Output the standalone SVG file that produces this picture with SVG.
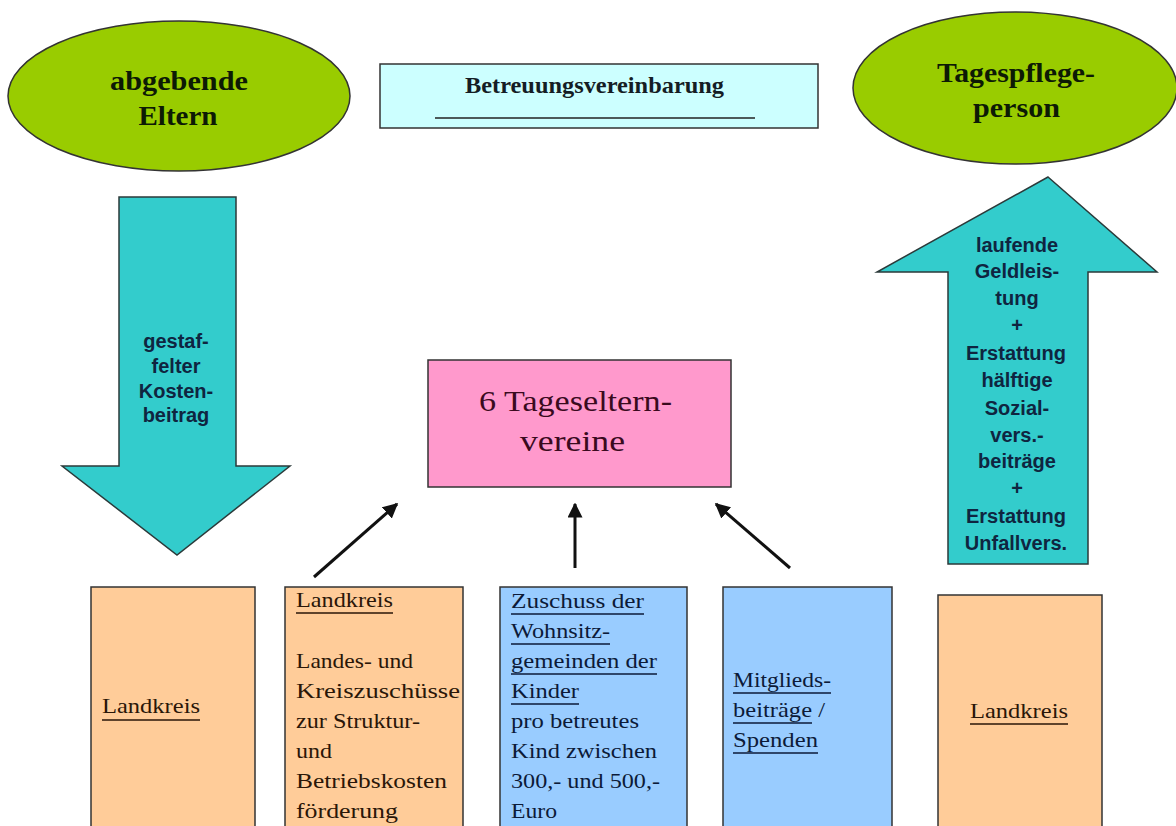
<svg xmlns="http://www.w3.org/2000/svg" width="1176" height="826" viewBox="0 0 1176 826">
  <defs>
    <marker id="ah" viewBox="0 0 10 10" refX="9" refY="5" markerWidth="5" markerHeight="5" orient="auto" markerUnits="strokeWidth">
      <path d="M0,0 L10,5 L0,10 z" fill="#111"/>
    </marker>
    <style>
      .ell { fill: #99CC00; stroke: #333; stroke-width: 1.5; }
      .ellt { font-family: "Liberation Serif", "Times New Roman", serif; font-weight: bold; font-size: 27px; fill: #0d1a05; text-anchor: middle; }
      .big { fill: #33CCCC; stroke: #2b3a3a; stroke-width: 1.5; }
      .bigt { font-family: "Liberation Sans", Arial, sans-serif; font-weight: bold; font-size: 20px; fill: #0f2540; text-anchor: middle; }
      .orange { fill: #FFCC99; stroke: #333; stroke-width: 1.5; }
      .blue { fill: #99CCFF; stroke: #333; stroke-width: 1.5; }
      .bt { font-family: "Liberation Serif", "Times New Roman", serif; font-size: 22px; }
      .ot { fill: #2a1608; }
      .blt { fill: #0c1a38; }
      .ul { stroke-width: 1.4; }
      .ulo { stroke: #2a1608; }
      .ulb { stroke: #0c1a38; }
      .conn { stroke: #111; stroke-width: 3; fill: none; marker-end: url(#ah); }
    </style>
  </defs>
  <rect width="1176" height="826" fill="#ffffff"/>

  <g id="abgebende-eltern">
    <ellipse class="ell" cx="179" cy="96" rx="171" ry="75"/>
    <text class="ellt" x="179" y="90" textLength="138" lengthAdjust="spacingAndGlyphs">abgebende</text>
    <text class="ellt" x="178" y="125" textLength="79" lengthAdjust="spacingAndGlyphs">Eltern</text>
  </g>

  <g id="betreuungsvereinbarung">
    <rect x="380" y="64" width="438" height="64" fill="#CCFFFF" stroke="#333" stroke-width="1.5"/>
    <text x="594.5" y="93" font-family="Liberation Serif, Times New Roman, serif" font-weight="bold" font-size="23" fill="#151d25" text-anchor="middle" textLength="259" lengthAdjust="spacingAndGlyphs">Betreuungsvereinbarung</text>
    <line x1="435" y1="118" x2="755" y2="118" stroke="#222" stroke-width="1.5"/>
  </g>

  <g id="tagespflegeperson">
    <ellipse class="ell" cx="1015" cy="88" rx="162" ry="76"/>
    <text class="ellt" x="1016" y="82" textLength="158" lengthAdjust="spacingAndGlyphs">Tagespflege-</text>
    <text class="ellt" x="1016.5" y="117" textLength="87" lengthAdjust="spacingAndGlyphs">person</text>
  </g>

  <g id="kostenbeitrag-arrow">
    <polygon class="big" points="119,197 236,197 236,466 290,466 177,555 62,466 119,466"/>
    <text class="bigt" font-size="20.5" x="176" y="348">gestaf-</text>
    <text class="bigt" font-size="20.5" x="176" y="373">felter</text>
    <text class="bigt" font-size="20.5" x="176" y="398">Kosten-</text>
    <text class="bigt" font-size="20.5" x="176" y="422">beitrag</text>
  </g>

  <g id="geldleistung-arrow">
    <polygon class="big" points="1048,177 1157,272 1088,272 1088,564 948,564 948,272 877,272"/>
    <text class="bigt" x="1017" y="252">laufende</text>
    <text class="bigt" x="1017" y="278">Geldleis-</text>
    <text class="bigt" x="1017" y="305">tung</text>
    <text class="bigt" x="1017" y="332">+</text>
    <text class="bigt" x="1016" y="360">Erstattung</text>
    <text class="bigt" x="1017" y="387">hälftige</text>
    <text class="bigt" x="1017" y="415">Sozial-</text>
    <text class="bigt" x="1017" y="442">vers.-</text>
    <text class="bigt" x="1017" y="468">beiträge</text>
    <text class="bigt" x="1017" y="495">+</text>
    <text class="bigt" x="1016" y="523">Erstattung</text>
    <text class="bigt" x="1016" y="550">Unfallvers.</text>
  </g>

  <g id="tageselternvereine">
    <rect x="428" y="360" width="303" height="127" fill="#FF99CC" stroke="#333" stroke-width="1.5"/>
    <text x="575.5" y="411" font-family="Liberation Serif, Times New Roman, serif" font-size="29" fill="#3a0a1e" text-anchor="middle" textLength="193" lengthAdjust="spacingAndGlyphs">6 Tageseltern-</text>
    <text x="572.5" y="451" font-family="Liberation Serif, Times New Roman, serif" font-size="29" fill="#3a0a1e" text-anchor="middle" textLength="105" lengthAdjust="spacingAndGlyphs">vereine</text>
  </g>

  <g id="connectors">
    <line class="conn" x1="314" y1="577" x2="397" y2="504"/>
    <line class="conn" x1="575" y1="568" x2="575" y2="504"/>
    <line class="conn" x1="790" y1="568" x2="716" y2="504"/>
  </g>

  <g id="landkreis-links">
    <rect class="orange" x="91" y="587" width="164" height="245"/>
    <text class="bt ot" x="102" y="713" textLength="98" lengthAdjust="spacingAndGlyphs">Landkreis</text>
    <line class="ul ulo" x1="102" y1="720" x2="200" y2="720"/>
  </g>

  <g id="landkreis-zuschuesse">
    <rect class="orange" x="285" y="587" width="178" height="245"/>
    <text class="bt ot" x="296" y="607" textLength="97" lengthAdjust="spacingAndGlyphs">Landkreis</text>
    <line class="ul ulo" x1="296" y1="613" x2="393" y2="613"/>
    <text class="bt ot" x="296" y="668" textLength="117" lengthAdjust="spacingAndGlyphs">Landes- und</text>
    <text class="bt ot" x="296" y="698" textLength="164" lengthAdjust="spacingAndGlyphs">Kreiszuschüsse</text>
    <text class="bt ot" x="296" y="728" textLength="124" lengthAdjust="spacingAndGlyphs">zur Struktur-</text>
    <text class="bt ot" x="296" y="758" textLength="36" lengthAdjust="spacingAndGlyphs">und</text>
    <text class="bt ot" x="296" y="788" textLength="151" lengthAdjust="spacingAndGlyphs">Betriebskosten</text>
    <text class="bt ot" x="296" y="818" textLength="102" lengthAdjust="spacingAndGlyphs">förderung</text>
  </g>

  <g id="wohnsitzgemeinden">
    <rect class="blue" x="500" y="587" width="187" height="245"/>
    <text class="bt blt" x="511" y="608" textLength="133" lengthAdjust="spacingAndGlyphs">Zuschuss der</text>
    <line class="ul ulb" x1="511" y1="614" x2="644" y2="614"/>
    <text class="bt blt" x="511" y="638" textLength="99" lengthAdjust="spacingAndGlyphs">Wohnsitz-</text>
    <line class="ul ulb" x1="511" y1="644" x2="610" y2="644"/>
    <text class="bt blt" x="511" y="668" textLength="146" lengthAdjust="spacingAndGlyphs">gemeinden der</text>
    <line class="ul ulb" x1="511" y1="674" x2="657" y2="674"/>
    <text class="bt blt" x="511" y="698" textLength="68" lengthAdjust="spacingAndGlyphs">Kinder</text>
    <line class="ul ulb" x1="511" y1="704" x2="579" y2="704"/>
    <text class="bt blt" x="511" y="728" textLength="128" lengthAdjust="spacingAndGlyphs">pro betreutes</text>
    <text class="bt blt" x="511" y="758" textLength="146" lengthAdjust="spacingAndGlyphs">Kind zwischen</text>
    <text class="bt blt" x="511" y="788" textLength="149" lengthAdjust="spacingAndGlyphs">300,- und 500,-</text>
    <text class="bt blt" x="511" y="818" textLength="46" lengthAdjust="spacingAndGlyphs">Euro</text>
  </g>

  <g id="mitgliedsbeitraege">
    <rect class="blue" x="723" y="587" width="169" height="245"/>
    <text class="bt blt" x="733" y="687" textLength="98" lengthAdjust="spacingAndGlyphs">Mitglieds-</text>
    <line class="ul ulb" x1="733" y1="693" x2="831" y2="693"/>
    <text class="bt blt" x="733" y="717" textLength="92" lengthAdjust="spacingAndGlyphs">beiträge /</text>
    <line class="ul ulb" x1="733" y1="723" x2="812" y2="723"/>
    <text class="bt blt" x="733" y="747" textLength="85" lengthAdjust="spacingAndGlyphs">Spenden</text>
    <line class="ul ulb" x1="733" y1="753" x2="818" y2="753"/>
  </g>

  <g id="landkreis-rechts">
    <rect class="orange" x="938" y="595" width="164" height="237"/>
    <text class="bt ot" x="970" y="718" textLength="98" lengthAdjust="spacingAndGlyphs">Landkreis</text>
    <line class="ul ulo" x1="970" y1="724" x2="1068" y2="724"/>
  </g>
</svg>
